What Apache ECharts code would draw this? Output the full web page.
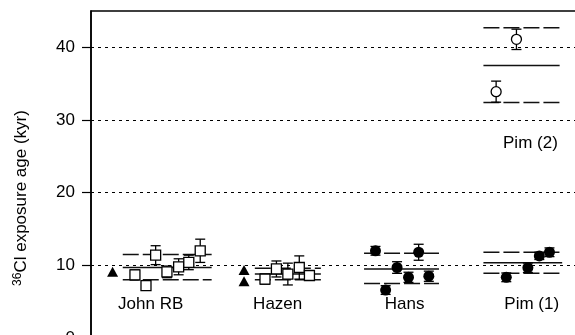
<!DOCTYPE html>
<html>
<head>
<meta charset="utf-8">
<script src="https://cdn.jsdelivr.net/npm/echarts@6/dist/echarts.min.js"></script>
<style>
html,body{margin:0;padding:0;background:#fff;}
#chart{width:575px;height:335px;}
</style>
</head>
<body>
<div id="chart"></div>
<script>
// ---- data ----
const groupNames = ['John RB', 'Hazen', 'Hans', 'Pim (1)'];
const groupPos = [0, 1, 2, 3];
const yTicks = [0, 10, 20, 30, 40];

// open squares (John RB, Hazen)
const squareX   = [-0.124, -0.037, 0.039, 0.128, 0.22, 0.30, 0.39, 0.90, 0.99, 1.08, 1.17, 1.25];
const squareAge = [8.7, 7.2, 11.4, 9.1, 9.8, 10.4, 12.0, 8.1, 9.5, 8.8, 9.7, 8.6];
const squareErr = [0.7, 0.6, 1.3, 0.8, 1.1, 1.0, 1.6, 0.7, 1.1, 1.5, 1.6, 0.5];

// filled triangles (no error bars)
const triX   = [-0.30, 0.735, 0.735];
const triAge = [9.1, 9.35, 7.8];

// filled circles (Hans, Pim (1))
const dotX   = [1.77, 1.85, 1.94, 2.03, 2.11, 2.19, 2.80, 2.97, 3.06, 3.14];
const dotAge = [12.0, 6.6, 9.7, 8.35, 11.8, 8.5, 8.35, 9.67, 11.3, 11.8];
const dotErr = [0.6, 0.6, 0.8, 0.7, 1.1, 0.7, 0.6, 0.65, 0.5, 0.6];

// open circles (Pim (2))
const ringX   = [2.72, 2.88];
const ringAge = [33.9, 41.1];
const ringErr = [1.45, 1.4];

// group mean and +/- 1 sd levels
const levelFrom  = [-0.22, 0.82, 1.68, 2.62, 2.62];
const levelTo    = [0.48, 1.34, 2.27, 3.24, 3.22];
const meanAge    = [9.7, 8.8, 9.5, 10.35, 37.5];
const upperAge   = [11.5, 9.6, 11.65, 11.8, 42.7];
const lowerAge   = [8.0, 8.0, 7.5, 8.9, 32.4];

const annotText = 'Pim (2)';
const annotX = 2.99, annotY = 26.8;

// ---- build ----
const FONT = '"Liberation Sans", Arial, sans-serif';
const chart = echarts.init(document.getElementById('chart'), null, {renderer: 'canvas'});

const levelData = [];
for (let i = 0; i < meanAge.length; i++) {
  levelData.push([levelFrom[i], levelTo[i], meanAge[i], 0]);
  levelData.push([levelFrom[i], levelTo[i], upperAge[i], 1]);
  levelData.push([levelFrom[i], levelTo[i], lowerAge[i], 1]);
}
const errData = [];
squareX.forEach((x, i) => errData.push([x, squareAge[i], squareErr[i]]));
dotX.forEach((x, i) => errData.push([x, dotAge[i], dotErr[i]]));
ringX.forEach((x, i) => errData.push([x, ringAge[i], ringErr[i]]));

const zip = (xs, ys) => xs.map((x, i) => [x, ys[i]]);

const option = {
  animation: false,
  backgroundColor: '#fff',
  grid: {left: 91, top: 11, width: 508, height: 327, show: true, borderColor: '#000', borderWidth: 1.5,
         backgroundColor: 'transparent', containLabel: false, outerBoundsMode: 'none'},
  xAxis: {
    type: 'value', min: -0.47, max: 3.53,
    axisLine: {show: false, onZero: false}, axisTick: {show: false}, splitLine: {show: false},
    axisLabel: {
      customValues: groupPos, inside: true, margin: 25,
      formatter: v => groupNames[Math.round(v)],
      color: '#000', fontSize: 17, fontFamily: FONT
    }
  },
  yAxis: {
    type: 'value', min: 0, max: 45,
    axisLine: {show: true, onZero: false, lineStyle: {color: '#000', width: 1.5}},
    axisTick: {show: true, length: 9, customValues: yTicks, lineStyle: {color: '#000', width: 1.2}},
    axisLabel: {customValues: yTicks, color: '#000', fontSize: 17, fontFamily: FONT, margin: 16},
    splitLine: {show: true, lineStyle: {color: '#000', width: 1, type: [3, 4]}}
  },
  graphic: [{
    type: 'text', x: 21, y: 198, rotation: Math.PI / 2,
    style: {
      text: '{s|36}{m|Cl exposure age (kyr)}',
      align: 'center', verticalAlign: 'middle',
      rich: {
        s: {fontSize: 12, fontFamily: FONT, fill: '#000', padding: [0, 0, 7, 0]},
        m: {fontSize: 17, fontFamily: FONT, fill: '#000'}
      }
    }
  }],
  series: [
    {
      type: 'custom', name: 'levels', z: 2, silent: true,
      data: levelData,
      renderItem: (params, api) => {
        const a = api.coord([api.value(0), api.value(2)]);
        const b = api.coord([api.value(1), api.value(2)]);
        return {
          type: 'line',
          shape: {x1: a[0], y1: a[1], x2: b[0], y2: b[1]},
          style: {stroke: '#111', lineWidth: 1.5, lineDash: api.value(3) ? [16, 4] : null}
        };
      }
    },
    {
      type: 'custom', name: 'errors', z: 3, silent: true,
      data: errData,
      renderItem: (params, api) => {
        const x = api.value(0), y = api.value(1), e = api.value(2);
        const t = api.coord([x, y + e]);
        const b = api.coord([x, y - e]);
        const c = 5;
        const st = {stroke: '#000', lineWidth: 1.3};
        return {type: 'group', children: [
          {type: 'line', shape: {x1: t[0], y1: t[1], x2: b[0], y2: b[1]}, style: st},
          {type: 'line', shape: {x1: t[0] - c, y1: t[1], x2: t[0] + c, y2: t[1]}, style: st},
          {type: 'line', shape: {x1: b[0] - c, y1: b[1], x2: b[0] + c, y2: b[1]}, style: st}
        ]};
      }
    },
    {
      type: 'scatter', name: 'squares', z: 4, symbol: 'rect', symbolSize: 10,
      itemStyle: {color: '#fff', borderColor: '#000', borderWidth: 1.3, opacity: 1},
      data: zip(squareX, squareAge)
    },
    {
      type: 'scatter', name: 'triangles', z: 4, symbol: 'triangle', symbolSize: [11, 10],
      itemStyle: {color: '#000', opacity: 1},
      data: zip(triX, triAge)
    },
    {
      type: 'scatter', name: 'dots', z: 4, symbol: 'circle', symbolSize: 11,
      itemStyle: {color: '#000', opacity: 1},
      data: zip(dotX, dotAge)
    },
    {
      type: 'scatter', name: 'rings', z: 4, symbol: 'circle', symbolSize: 10,
      itemStyle: {color: '#fff', borderColor: '#000', borderWidth: 1.3, opacity: 1},
      data: zip(ringX, ringAge)
    },
    {
      type: 'scatter', name: 'annotation', z: 5, symbolSize: 0, silent: true,
      itemStyle: {opacity: 1},
      data: [[annotX, annotY]],
      label: {show: true, position: 'inside', formatter: annotText, color: '#000', fontSize: 17, fontFamily: FONT, opacity: 1}
    }
  ]
};
chart.setOption(option);
</script>
</body>
</html>
